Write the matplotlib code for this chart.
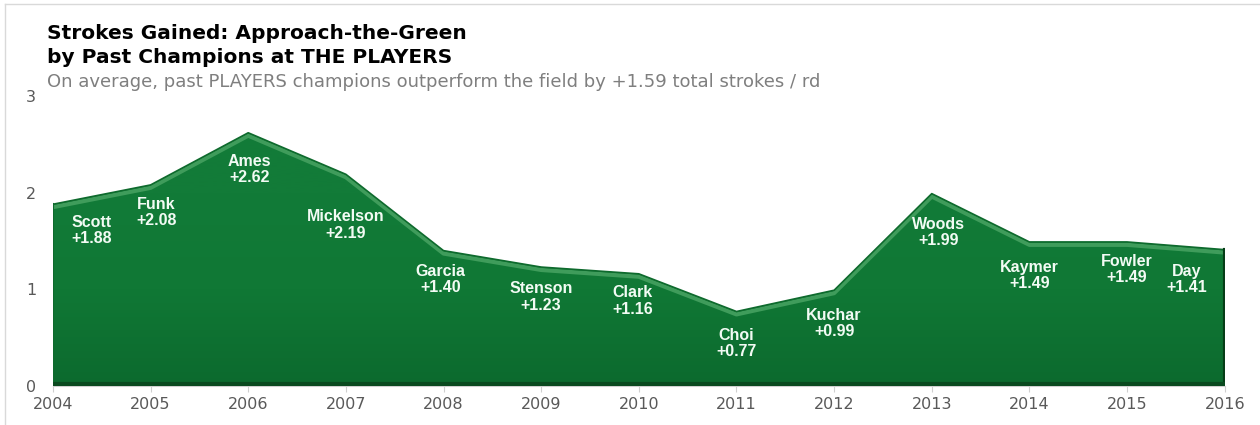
import numpy as np
import matplotlib
matplotlib.use("Agg")
import matplotlib.pyplot as plt
from matplotlib.patches import Polygon
from matplotlib.lines import Line2D

plt.rcParams["font.family"] = ["DejaVu Sans"]

# data
years = [2004, 2005, 2006, 2007, 2008, 2009, 2010, 2011, 2012, 2013, 2014, 2015, 2016]
players = ["Scott", "Funk", "Ames", "Mickelson", "Garcia", "Stenson", "Clark",
           "Choi", "Kuchar", "Woods", "Kaymer", "Fowler", "Day"]
sg_approach = [1.88, 2.08, 2.62, 2.19, 1.40, 1.23, 1.16, 0.77, 0.99, 1.99, 1.49, 1.49, 1.41]

# label tweaks (x offset in years, y offset in points) -- layout only
label_dx = [0.40, 0.06, 0.01, 0, -0.03, 0, -0.06, 0, 0, 0.07, 0, 0, -0.39]
label_dy = [-19, -20, -26.5, -36.5, -21, -21.5, -19.5, -23, -24, -28, -24, -20, -21.5]

fig = plt.figure(figsize=(12.6, 4.25), dpi=100)
ax = fig.add_axes([0.042, 0.092, 0.930, 0.682])

x = np.array(years, dtype=float)
y = np.array(sg_approach)

# gradient fill clipped to the area shape
verts = np.column_stack([np.r_[x[0], x, x[-1]], np.r_[0, y, 0]])
poly = Polygon(verts, closed=True, facecolor="none", edgecolor="none")
ax.add_patch(poly)
grad = np.linspace(0, 1, 256).reshape(-1, 1)
cmap = matplotlib.colors.LinearSegmentedColormap.from_list(
    "g", ["#0c6a2e", "#107835", "#127b38", "#127b38"])
im = ax.imshow(grad, extent=[x[0], x[-1], 0, 3], origin="lower", aspect="auto",
               cmap=cmap, zorder=1)
im.set_clip_path(poly)

# bevel: light rim along top, dark rim on bottom/right
ax.plot(x, y - 0.03, color="#3f9c5b", lw=3, zorder=2, solid_joinstyle="round")
ax.plot(x, y, color="#0e6a2d", lw=1.2, zorder=3)
ax.plot([x[0], x[0]], [0, y[0]], color="#0e6a2d", lw=1.5, zorder=3)
ax.plot([x[-1], x[-1]], [0, y[-1]], color="#063d17", lw=3, zorder=3)
ax.plot([x[0], x[-1]], [0.02, 0.02], color="#0a4a1f", lw=3, zorder=3)

for i, (yr, name, val) in enumerate(zip(years, players, sg_approach)):
    ax.annotate(f"{name}\n+{val:.2f}", xy=(yr + label_dx[i], val),
                xytext=(0, label_dy[i]), textcoords="offset points",
                ha="center", va="center", color="#f2fbf4", fontsize=11.5,
                fontweight="bold", family=["Liberation Sans", "DejaVu Sans"],
                linespacing=1.1, zorder=5)

ax.set_xlim(2004, 2016)
ax.set_ylim(0, 3)
ax.set_xticks(years)
ax.set_yticks([0, 1, 2, 3])
ax.tick_params(axis="x", colors="#d0d0d0", labelcolor="#595959", labelsize=11.5,
               length=4, pad=4)
ax.tick_params(axis="y", length=0, labelcolor="#595959", labelsize=11.5, pad=12)
for s in ["top", "right", "left"]:
    ax.spines[s].set_visible(False)
ax.spines["bottom"].set_color("#d0d0d0")
ax.patch.set_alpha(0)

fig.text(0.037, 0.922, "Strokes Gained: Approach-the-Green", fontsize=14.5,
         fontweight="bold", va="center", ha="left")
fig.text(0.037, 0.864, "by Past Champions at THE PLAYERS", fontsize=14.5,
         fontweight="bold", va="center", ha="left")
fig.text(0.037, 0.807,
         "On average, past PLAYERS champions outperform the field by +1.59 total strokes / rd",
         fontsize=13, color="#7f7f7f", va="center", ha="left")

# thin frame on top and left edges
fig.add_artist(Line2D([0.004, 1.0], [0.991, 0.991], transform=fig.transFigure,
                      color="#d9d9d9", lw=1))
fig.add_artist(Line2D([0.004, 0.004], [0.0, 0.991], transform=fig.transFigure,
                      color="#d9d9d9", lw=1))

fig.savefig("out.png", dpi=100)
